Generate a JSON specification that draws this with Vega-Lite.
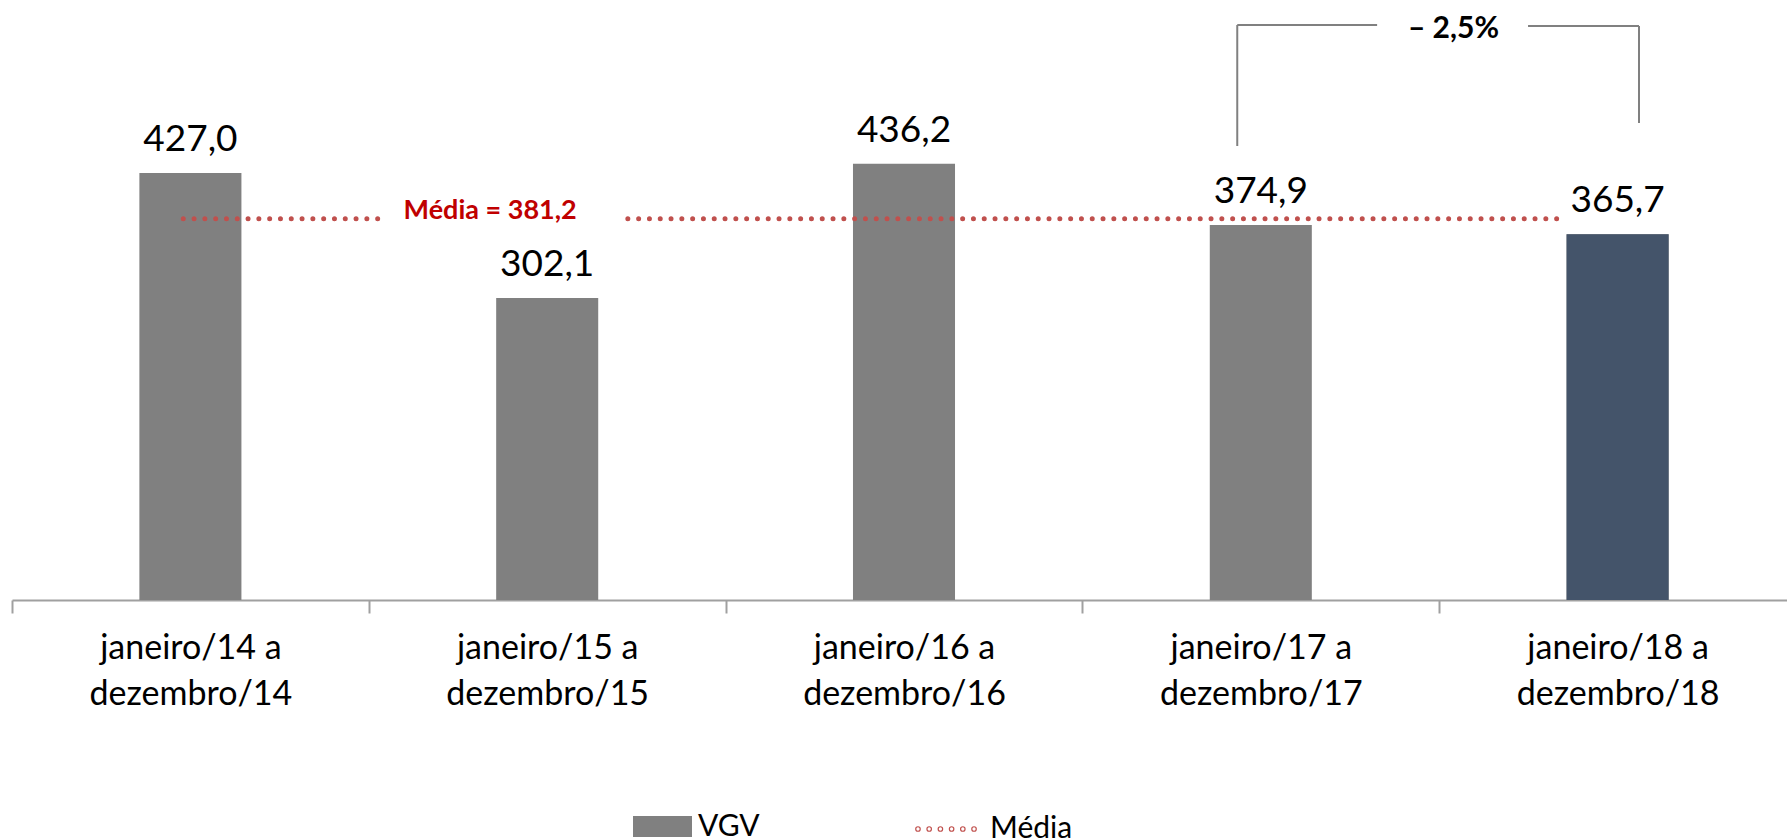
{
  "$schema": "https://vega.github.io/schema/vega-lite/v6.json",
  "width": 1775,
  "height": 600,
  "autosize": {"type": "none"},
  "padding": {"left": 12, "top": 0, "right": 0, "bottom": 240},
  "background": "white",
  "config": {"view": {"stroke": null}, "font": "Lato"},
  "datasets": {
    "vgv": [
      {"periodo": "janeiro/14 a dezembro/14", "vgv": 427.0, "rotulo": "427,0", "serie": "VGV"},
      {"periodo": "janeiro/15 a dezembro/15", "vgv": 302.1, "rotulo": "302,1", "serie": "VGV"},
      {"periodo": "janeiro/16 a dezembro/16", "vgv": 436.2, "rotulo": "436,2", "serie": "VGV"},
      {"periodo": "janeiro/17 a dezembro/17", "vgv": 374.9, "rotulo": "374,9", "serie": "VGV"},
      {"periodo": "janeiro/18 a dezembro/18", "vgv": 365.7, "rotulo": "365,7", "serie": "VGV"}
    ],
    "media": [
      {"de": "janeiro/14 a dezembro/14", "meio": "janeiro/15 a dezembro/15", "ate": "janeiro/18 a dezembro/18", "media": 381.2, "texto": "Média = 381,2", "serie": "Média"}
    ],
    "variacao": [
      {"de": "janeiro/17 a dezembro/17", "ate": "janeiro/18 a dezembro/18", "texto": "– 2,5%"}
    ]
  },
  "layer": [
    {
      "data": {"name": "vgv"},
      "mark": {"type": "bar", "width": {"band": 0.286}},
      "encoding": {
        "x": {
          "field": "periodo", "type": "nominal", "sort": null,
          "scale": {"range": [0, 1784], "paddingInner": 0, "paddingOuter": 0},
          "axis": {
            "title": null,
            "labelAngle": 0,
            "labelExpr": "isString(datum.value) ? [slice(datum.value, 0, 12), slice(datum.value, 13)] : ''",
            "labelFont": "Lato",
            "labelFontSize": 34,
            "labelLimit": 0,
            "labelColor": "#000000",
            "labelLineHeight": 46,
            "labelPadding": 18,
            "labelBaseline": "top",
            "domainColor": "#A0A0A0",
            "domainWidth": 2,
            "tickColor": "#A0A0A0",
            "tickWidth": 2,
            "tickSize": 13,
            "tickBand": "extent",
            "grid": false
          }
        },
        "y": {
          "field": "vgv", "type": "quantitative",
          "scale": {"domain": [0, 600], "nice": false, "zero": true},
          "axis": null
        },
        "color": {
          "field": "serie", "type": "nominal",
          "scale": {"domain": ["VGV"], "range": ["#808080"]},
          "legend": {
            "title": null,
            "orient": "none",
            "direction": "horizontal",
            "legendX": 621,
            "legendY": 797,
            "padding": 0,
            "labelFont": "Lato",
            "labelFontSize": 30,
            "labelColor": "#000000",
            "labelOffset": 6,
            "symbolType": "M-1,-0.36H1V0.36H-1Z",
            "symbolSize": 3481,
            "symbolStrokeWidth": 0,
            "symbolOpacity": 1
          }
        }
      }
    },
    {
      "data": {"name": "vgv"},
      "transform": [{"filter": {"field": "periodo", "equal": "janeiro/18 a dezembro/18"}}],
      "mark": {"type": "bar", "width": {"band": 0.286}, "color": "#44546A"},
      "encoding": {
        "x": {"field": "periodo", "type": "nominal", "sort": null},
        "y": {"field": "vgv", "type": "quantitative"}
      }
    },
    {
      "data": {"name": "vgv"},
      "mark": {"type": "text", "baseline": "alphabetic", "align": "center", "dy": -22, "font": "Lato", "fontSize": 37, "color": "#000000"},
      "encoding": {
        "x": {"field": "periodo", "type": "nominal", "sort": null},
        "y": {"field": "vgv", "type": "quantitative"},
        "text": {"field": "rotulo"}
      }
    },
    {
      "data": {"name": "media"},
      "mark": {"type": "rule", "strokeWidth": 5, "strokeDash": [0, 10.8], "strokeCap": "round"},
      "encoding": {
        "x": {"field": "de", "type": "nominal", "bandPosition": 0.48},
        "x2": {"field": "meio", "bandPosition": 0.053},
        "y": {"field": "media", "type": "quantitative"},
        "stroke": {
          "field": "serie", "type": "nominal",
          "scale": {"domain": ["Média"], "range": ["#C0504D"]},
          "legend": {
            "title": null,
            "orient": "none",
            "direction": "horizontal",
            "legendX": 902,
            "legendY": 797,
            "padding": 0,
            "labelFont": "Lato",
            "labelFontSize": 30,
            "labelColor": "#000000",
            "labelOffset": 12,
            "symbolType": "M-0.97,0a0.02,0.02 0 1,0 0.04,0a0.02,0.02 0 1,0 -0.04,0M-0.59,0a0.02,0.02 0 1,0 0.04,0a0.02,0.02 0 1,0 -0.04,0M-0.21,0a0.02,0.02 0 1,0 0.04,0a0.02,0.02 0 1,0 -0.04,0M0.17,0a0.02,0.02 0 1,0 0.04,0a0.02,0.02 0 1,0 -0.04,0M0.55,0a0.02,0.02 0 1,0 0.04,0a0.02,0.02 0 1,0 -0.04,0M0.93,0a0.02,0.02 0 1,0 0.04,0a0.02,0.02 0 1,0 -0.04,0",
            "symbolSize": 3481,
            "symbolStrokeWidth": 4.5,
            "symbolOpacity": 1
          }
        }
      }
    },
    {
      "data": {"name": "media"},
      "mark": {"type": "rule", "color": "#C0504D", "strokeWidth": 5, "strokeDash": [0, 10.8], "strokeCap": "round"},
      "encoding": {
        "x": {"field": "meio", "type": "nominal", "bandPosition": 0.726},
        "x2": {"field": "ate", "bandPosition": 0.333},
        "y": {"field": "media", "type": "quantitative"}
      }
    },
    {
      "data": {"name": "media"},
      "mark": {"type": "text", "color": "#C00000", "font": "Lato", "fontWeight": "bold", "fontSize": 27, "baseline": "alphabetic", "align": "center"},
      "encoding": {
        "x": {"field": "meio", "type": "nominal", "bandPosition": 0.34},
        "y": {"field": "media", "type": "quantitative"},
        "text": {"field": "texto"}
      }
    },
    {
      "data": {"name": "variacao"},
      "mark": {"type": "rule", "color": "#808080", "strokeWidth": 2},
      "encoding": {
        "x": {"field": "de", "type": "nominal", "bandPosition": 0.434},
        "y": {"datum": 575},
        "y2": {"datum": 454}
      }
    },
    {
      "data": {"name": "variacao"},
      "mark": {"type": "rule", "color": "#808080", "strokeWidth": 2},
      "encoding": {
        "x": {"field": "ate", "type": "nominal", "bandPosition": 0.56},
        "y": {"datum": 574},
        "y2": {"datum": 477}
      }
    },
    {
      "data": {"name": "variacao"},
      "mark": {"type": "rule", "color": "#808080", "strokeWidth": 2},
      "encoding": {
        "x": {"field": "de", "type": "nominal", "bandPosition": 0.434},
        "x2": {"field": "de", "bandPosition": 0.826},
        "y": {"datum": 575}
      }
    },
    {
      "data": {"name": "variacao"},
      "mark": {"type": "rule", "color": "#808080", "strokeWidth": 2},
      "encoding": {
        "x": {"field": "ate", "type": "nominal", "bandPosition": 0.249},
        "x2": {"field": "ate", "bandPosition": 0.56},
        "y": {"datum": 574}
      }
    },
    {
      "data": {"name": "variacao"},
      "mark": {"type": "text", "color": "#000000", "font": "Lato", "fontWeight": "bold", "fontSize": 30, "baseline": "alphabetic", "align": "center"},
      "encoding": {
        "x": {"field": "ate", "type": "nominal", "bandPosition": 0.04},
        "y": {"datum": 562},
        "text": {"field": "texto"}
      }
    }
  ]
}
